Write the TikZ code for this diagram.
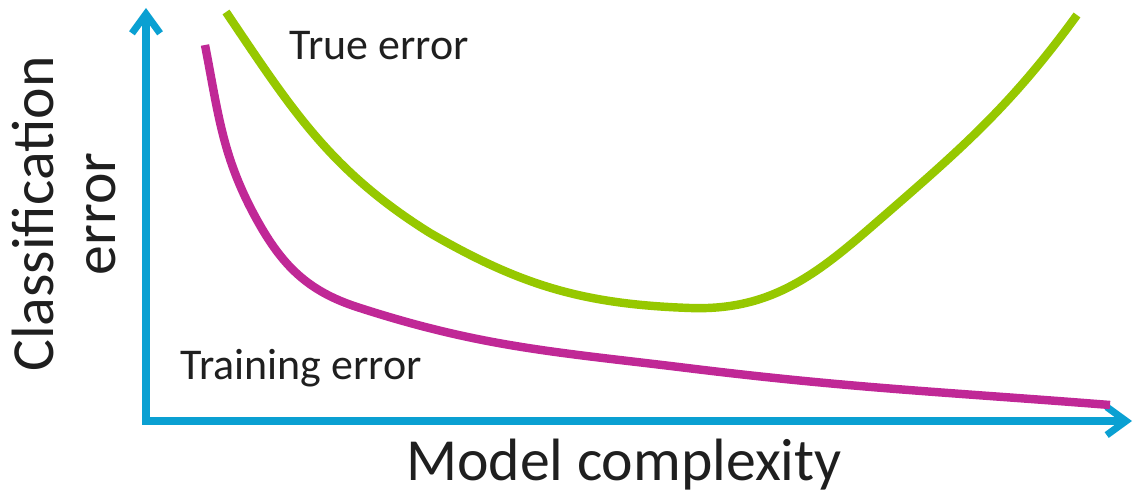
\documentclass[tikz,border=0pt]{standalone}
\usepackage{fontspec}
\setmainfont{Carlito}
\usetikzlibrary{arrows.meta}

\definecolor{axisblue}{RGB}{10,160,210}
\definecolor{truegreen}{RGB}{150,200,0}
\definecolor{trainmagenta}{RGB}{192,40,150}

\begin{document}
\begin{tikzpicture}[x=0.02cm,y=0.02cm,
    axis/.style={draw=axisblue,line width=4pt,
      {Straight Barb[length=11pt,width=16pt]}-{Straight Barb[length=11pt,width=16pt]}},
    curve/.style={line width=4.8pt},
    lbl/.style={inner sep=0pt,text=black!88}]
  \useasboundingbox (0,0) rectangle (1134,494);
  \coordinate (origin) at (146,73);
  \coordinate (ytip) at (146,486);
  \coordinate (xtip) at (1132,73);
  \draw[axis] (ytip) -- (origin) -- (xtip);
  \draw[curve,draw=trainmagenta] (205,449)
    to [out=-79,in=119] (257,274)
    to [out=-61,in=162] (357,187)
    to [out=-18,in=173] (687,126)
    to [out=-7,in=175.5] (1110,89);
  \draw[curve,draw=truegreen] (226,482)
    to [out=-56,in=148] (430,261)
    to [out=-30,in=178] (690,186)
    to [out=-2,in=-139] (870,266)
    to [out=41,in=-126] (1077,479);
  \node[lbl,anchor=base west,font=\fontsize{25}{29}\selectfont] (truelbl) at (289,434) {True error};
  \node[lbl,anchor=base west,font=\fontsize{25}{29}\selectfont] (trainlbl) at (180,114) {Training error};
  \node[lbl,anchor=base,font=\fontsize{34}{40}\selectfont] (xlbl) at (624,13) {Model complexity};
  \node[lbl,rotate=90,align=center,font=\fontsize{34}{35}\selectfont] (ylbl) at (64,280) {Classification\\error};
\end{tikzpicture}
\end{document}
